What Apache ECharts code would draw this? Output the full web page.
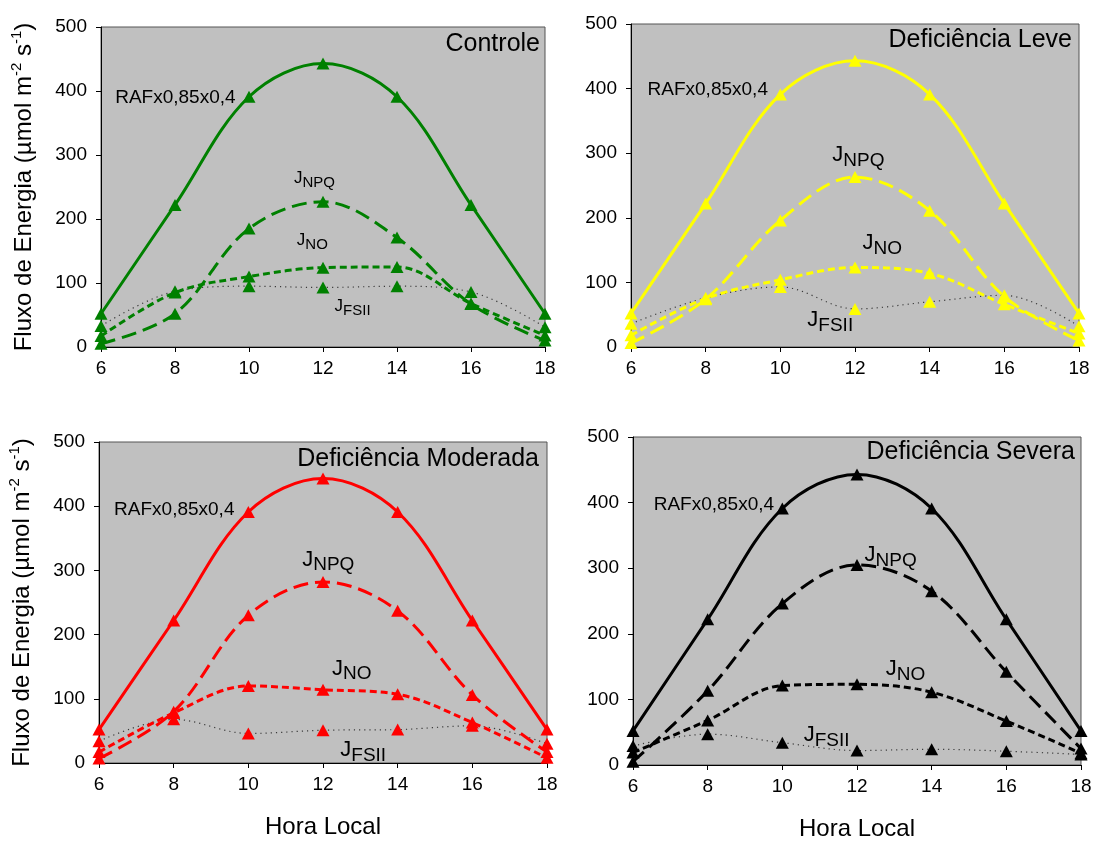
<!DOCTYPE html>
<html>
<head>
<meta charset="utf-8">
<script src="https://cdn.jsdelivr.net/npm/echarts@6/dist/echarts.min.js"></script>
<style>
  html, body { margin: 0; padding: 0; background: #ffffff; }
  #chart { width: 1100px; height: 843px; }
</style>
</head>
<body>
<div id="chart"></div>
<script>
// Daily course of energy fluxes (µmol m-2 s-1) in four water-deficit treatments
const hours = [6, 8, 10, 12, 14, 16, 18];
const xTicks = { min: 6, max: 18, interval: 2 };
const yTicks = { min: 0, max: 500, interval: 100 };

const panelNames = ['Controle', 'Deficiência Leve', 'Deficiência Moderada', 'Deficiência Severa'];
const panelColors = ['#008000', '#ffff00', '#ff0000', '#000000'];

// Absorbed radiation share (RAF x 0,85 x 0,4), same in all treatments
const raf = [52, 222, 391, 443, 391, 222, 52];

// Controle
const npqControle = [5, 52, 185, 227, 171, 67, 10];
const noControle = [17, 85, 110, 124, 125, 68, 18];
const fsiiControle = [33, 87, 95, 93, 95, 86, 31];

// Deficiência Leve
const npqLeve = [6, 74, 196, 263, 211, 78, 10];
const noLeve = [18, 75, 104, 123, 114, 66, 21];
const fsiiLeve = [36, 76, 93, 59, 70, 80, 32];

// Deficiência Moderada
const npqModerada = [7, 80, 230, 282, 237, 106, 17];
const noModerada = [17, 78, 120, 114, 107, 63, 8];
const fsiiModerada = [34, 68, 46, 51, 52, 58, 30];

// Deficiência Severa
const npqSevera = [5, 113, 246, 305, 265, 142, 25];
const noSevera = [19, 68, 121, 123, 111, 67, 18];
const fsiiSevera = [29, 47, 34, 22, 24, 21, 16];

const npqAll = [npqControle, npqLeve, npqModerada, npqSevera];
const noAll = [noControle, noLeve, noModerada, noSevera];
const fsiiAll = [fsiiControle, fsiiLeve, fsiiModerada, fsiiSevera];

// Curve label anchors [hour, value] (left edge, vertical middle of the text)
const labelRaf = [[6.37, 389], [6.43, 398], [6.39, 394], [6.54, 397]];
const labelNpq = [[11.2, 264], [11.38, 297], [11.43, 317], [12.19, 320]];
const labelNo = [[11.28, 167], [12.19, 161], [12.23, 147], [12.76, 146]];
const labelFsii = [[12.3, 64], [10.71, 42], [12.45, 20], [10.56, 46]];

const FONT = 'Liberation Sans, Arial, Helvetica, sans-serif';

const grids = [
  { left: 101, top: 27, width: 444, height: 320 },
  { left: 631, top: 24, width: 448, height: 323 },
  { left: 99, top: 442, width: 448, height: 321 },
  { left: 633, top: 437, width: 448, height: 328 }
];
const titlePos = [
  { right: 560, top: 32 },
  { right: 28, top: 28 },
  { right: 561, top: 447 },
  { right: 25, top: 440 }
];

const pairs = (vals) => hours.map((h, i) => [h, vals[i]]);

const option = {
  animation: false,
  backgroundColor: '#ffffff',
  textStyle: { fontFamily: FONT, color: '#000' },
  title: panelNames.map((name, i) => ({
    text: name,
    right: titlePos[i].right,
    top: titlePos[i].top,
    padding: 0,
    textStyle: { fontFamily: FONT, fontSize: 25, fontWeight: 'normal', color: '#000' }
  })),
  grid: grids.map(g => Object.assign({
    show: true, backgroundColor: '#c0c0c0', borderColor: '#555', borderWidth: 1
  }, g)),
  xAxis: grids.map((g, i) => ({
    type: 'value', gridIndex: i,
    min: xTicks.min, max: xTicks.max, interval: xTicks.interval,
    name: i >= 2 ? 'Hora Local' : '',
    nameLocation: 'middle', nameGap: 52,
    nameTextStyle: { fontFamily: FONT, fontSize: 24, color: '#000' },
    axisLine: { show: true, onZero: false, lineStyle: { color: '#000', width: 1 } },
    axisTick: { show: true, length: 5, lineStyle: { color: '#000' } },
    axisLabel: { fontFamily: FONT, fontSize: 19, color: '#000', margin: 12 },
    splitLine: { show: false }
  })),
  yAxis: grids.map((g, i) => ({
    type: 'value', gridIndex: i,
    min: yTicks.min, max: yTicks.max, interval: yTicks.interval,
    name: (i % 2 === 0) ? 'Fluxo de Energia (µmol m{sup|-2} s{sup|-1})' : '',
    nameLocation: 'middle', nameGap: 62,
    nameTextStyle: {
      fontFamily: FONT, fontSize: 24, color: '#000', lineHeight: 30,
      rich: { sup: { fontFamily: FONT, fontSize: 15, lineHeight: 15, verticalAlign: 'top', color: '#000' } }
    },
    axisLine: { show: true, lineStyle: { color: '#000', width: 1 } },
    axisTick: { show: true, length: 5, lineStyle: { color: '#000' } },
    axisLabel: { fontFamily: FONT, fontSize: 19, color: '#000', margin: 14 },
    splitLine: { show: false }
  })),
  series: []
};

function labelPoint(coord, text, big) {
  const jSize = big ? 22 : 17;
  const sSize = big ? 19 : 15;
  return {
    coord: coord,
    label: {
      show: true, position: 'right', distance: 0,
      formatter: text,
      fontFamily: FONT, fontSize: jSize, color: '#000', lineHeight: big ? 30 : 24,
      rich: {
        j: { fontFamily: FONT, fontSize: jSize, color: '#000', lineHeight: big ? 30 : 24 },
        s: { fontFamily: FONT, fontSize: sSize, color: '#000', lineHeight: sSize, verticalAlign: 'bottom' },
        r: { fontFamily: FONT, fontSize: 19, color: '#000', lineHeight: 22 }
      }
    }
  };
}

for (let p = 0; p < 4; p++) {
  const color = panelColors[p];
  const big = p > 0;
  const common = {
    type: 'line', xAxisIndex: p, yAxisIndex: p,
    smooth: 0.35, symbol: 'triangle', symbolSize: [13, 12], showSymbol: true,
    itemStyle: { color: color }, emphasis: { disabled: true }
  };
  option.series.push(Object.assign({}, common, {
    name: 'RAFx0,85x0,4',
    data: pairs(raf),
    lineStyle: { color: color, width: 3, type: 'solid' },
    z: 5,
    markPoint: {
      symbol: 'rect', symbolSize: 1,
      itemStyle: { color: 'rgba(0,0,0,0)' },
      data: [
        labelPoint(labelRaf[p], '{r|RAFx0,85x0,4}', big),
        labelPoint(labelNpq[p], '{j|J}{s|NPQ}', big),
        labelPoint(labelNo[p], '{j|J}{s|NO}', big),
        labelPoint(labelFsii[p], '{j|J}{s|FSII}', big)
      ]
    }
  }));
  option.series.push(Object.assign({}, common, {
    name: 'JNPQ',
    data: pairs(npqAll[p]),
    lineStyle: { color: color, width: 3, type: [15, 7] },
    z: 4
  }));
  option.series.push(Object.assign({}, common, {
    name: 'JNO',
    data: pairs(noAll[p]),
    lineStyle: { color: color, width: 3, type: [7, 4] },
    z: 3
  }));
  option.series.push(Object.assign({}, common, {
    name: 'JFSII',
    data: pairs(fsiiAll[p]),
    lineStyle: { color: '#3a3a3a', width: 1.2, type: [1.2, 4] },
    z: 2
  }));
}

const chart = echarts.init(document.getElementById('chart'), null, { renderer: 'canvas' });
chart.setOption(option);
</script>
</body>
</html>
